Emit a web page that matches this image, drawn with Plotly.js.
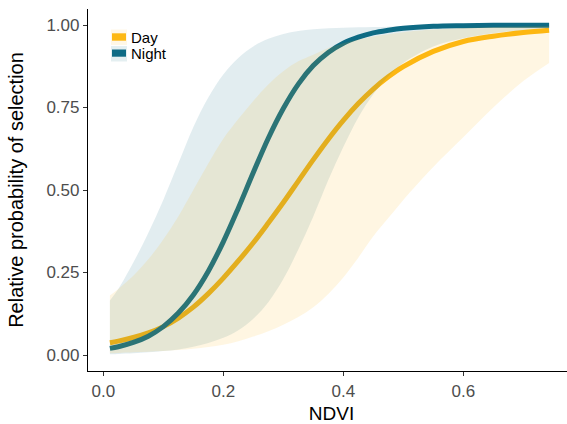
<!DOCTYPE html>
<html>
<head>
<meta charset="utf-8">
<script src="https://cdn.plot.ly/plotly-3.0.1.min.js"></script>
<style>html,body{margin:0;padding:0;background:#fff;overflow:hidden;}#chart{width:575px;height:424px;}</style>
</head>
<body>
<div id="chart"></div>
<script>
// NDVI sample positions
var ndvi = [0.011, 0.025, 0.05, 0.075, 0.1, 0.125, 0.15, 0.175, 0.2, 0.225, 0.25, 0.275, 0.3, 0.325, 0.35, 0.375, 0.4, 0.425, 0.45, 0.475, 0.5, 0.55, 0.6, 0.65, 0.7, 0.743];

// Day: fitted relative probability and confidence band
var dayFit = [0.037, 0.042, 0.053, 0.067, 0.086, 0.112, 0.145, 0.186, 0.233, 0.285, 0.34, 0.4, 0.462, 0.527, 0.592, 0.654, 0.711, 0.762, 0.806, 0.843, 0.874, 0.92, 0.95, 0.966, 0.977, 0.984];
var dayLow = [0.005, 0.006, 0.008, 0.01, 0.012, 0.015, 0.019, 0.024, 0.031, 0.042, 0.056, 0.072, 0.092, 0.115, 0.145, 0.185, 0.235, 0.295, 0.36, 0.415, 0.47, 0.57, 0.66, 0.75, 0.83, 0.885];
var dayUp  = [0.18, 0.2, 0.24, 0.29, 0.35, 0.42, 0.5, 0.58, 0.655, 0.715, 0.77, 0.82, 0.86, 0.89, 0.91, 0.93, 0.945, 0.956, 0.965, 0.972, 0.978, 0.986, 0.991, 0.994, 0.996, 0.997];

// Night: fitted relative probability and confidence band
var nightFit = [0.02, 0.025, 0.038, 0.057, 0.086, 0.127, 0.182, 0.254, 0.343, 0.445, 0.553, 0.657, 0.747, 0.821, 0.877, 0.917, 0.945, 0.963, 0.976, 0.984, 0.99, 0.996, 0.998, 0.999, 0.999, 0.999];
var nightLow = [0.002, 0.003, 0.005, 0.008, 0.012, 0.017, 0.025, 0.036, 0.052, 0.075, 0.11, 0.16, 0.23, 0.32, 0.42, 0.53, 0.63, 0.72, 0.79, 0.845, 0.885, 0.935, 0.96, 0.975, 0.985, 0.99];
var nightUp  = [0.165, 0.2, 0.28, 0.37, 0.47, 0.58, 0.69, 0.78, 0.85, 0.9, 0.935, 0.958, 0.973, 0.982, 0.987, 0.99, 0.992, 0.993, 0.994, 0.995, 0.996, 0.997, 0.998, 0.999, 0.999, 0.999];

var seriesNames = ["Day", "Night"];
var xTicks = [0, 0.2, 0.4, 0.6];
var yTicks = [0, 0.25, 0.5, 0.75, 1];

var dayCol = "#FDB813";
var nightCol = "#0E6B85";
var dayFill = "rgba(253,184,19,0.12)";
var nightFill = "rgba(14,107,133,0.12)";

var traces = [
  {x: ndvi, y: dayFit, mode: "lines", line: {color: dayCol, width: 5, shape: "spline"}, showlegend: false, hoverinfo: "skip"},
  {x: ndvi, y: nightFit, mode: "lines", line: {color: nightCol, width: 5, shape: "spline"}, showlegend: false, hoverinfo: "skip"},
  {x: ndvi, y: nightLow, mode: "lines", line: {width: 0, shape: "spline"}, showlegend: false, hoverinfo: "skip"},
  {x: ndvi, y: nightUp, mode: "lines", line: {width: 0, shape: "spline"}, fill: "tonexty", fillcolor: nightFill, showlegend: false, hoverinfo: "skip"},
  {x: ndvi, y: dayLow, mode: "lines", line: {width: 0, shape: "spline"}, showlegend: false, hoverinfo: "skip"},
  {x: ndvi, y: dayUp, mode: "lines", line: {width: 0, shape: "spline"}, fill: "tonexty", fillcolor: dayFill, showlegend: false, hoverinfo: "skip"}
];

// custom legend (paper coordinates, plot area 88..575 x 9..371)
var W = 575;
function px(x){ return (x - 88) / (W - 88); }
function py(y){ return (371 - y) / (371 - 9); }
var shapes = [
  {type: "rect", xref: "paper", yref: "paper", x0: px(111), x1: px(127), y0: py(45), y1: py(29.5), fillcolor: "#FFF7E6", line: {width: 0}},
  {type: "rect", xref: "paper", yref: "paper", x0: px(112), x1: px(126), y0: py(40.7), y1: py(33.3), fillcolor: dayCol, line: {width: 0}},
  {type: "rect", xref: "paper", yref: "paper", x0: px(111), x1: px(127), y0: py(61.5), y1: py(46), fillcolor: "#E4EFF1", line: {width: 0}},
  {type: "rect", xref: "paper", yref: "paper", x0: px(112), x1: px(126), y0: py(56.7), y1: py(49.5), fillcolor: nightCol, line: {width: 0}}
];
var annotations = [
  {xref: "paper", yref: "paper", x: px(129), y: py(37.5), text: seriesNames[0], showarrow: false, xanchor: "left", yanchor: "middle", font: {family: "Liberation Sans, Arial, sans-serif", size: 15, color: "#000"}},
  {xref: "paper", yref: "paper", x: px(129), y: py(53.5), text: seriesNames[1], showarrow: false, xanchor: "left", yanchor: "middle", font: {family: "Liberation Sans, Arial, sans-serif", size: 15, color: "#000"}}
];

var layout = {
  width: W, height: 424,
  margin: {l: 88, r: 0, t: 9, b: 53, pad: 0},
  paper_bgcolor: "#fff", plot_bgcolor: "#fff",
  font: {family: "Liberation Sans, Arial, sans-serif"},
  showlegend: false,
  xaxis: {
    range: [-0.0255, (W - 103.3) / 600], tickvals: xTicks, tickformat: ".1f",
    showgrid: false, zeroline: false, showline: true, linecolor: "#000", linewidth: 1.1,
    ticks: "outside", ticklen: 4, tickcolor: "#333", tickwidth: 1,
    tickfont: {size: 17, color: "#4D4D4D"},
    title: {text: "NDVI", font: {size: 19, color: "#000"}, standoff: 10},
    automargin: false
  },
  yaxis: {
    range: [-0.0485, 1.0485], tickvals: yTicks, tickformat: ".2f",
    showgrid: false, zeroline: false, showline: true, linecolor: "#000", linewidth: 1.1,
    ticks: "outside", ticklen: 4, tickcolor: "#333", tickwidth: 1,
    tickfont: {size: 17, color: "#4D4D4D"},
    title: {text: "Relative probability of selection", font: {size: 20, color: "#000"}, standoff: 17},
    automargin: false
  },
  shapes: shapes,
  annotations: annotations
};

Plotly.newPlot("chart", traces, layout, {displayModeBar: false, staticPlot: true});
</script>
</body>
</html>
